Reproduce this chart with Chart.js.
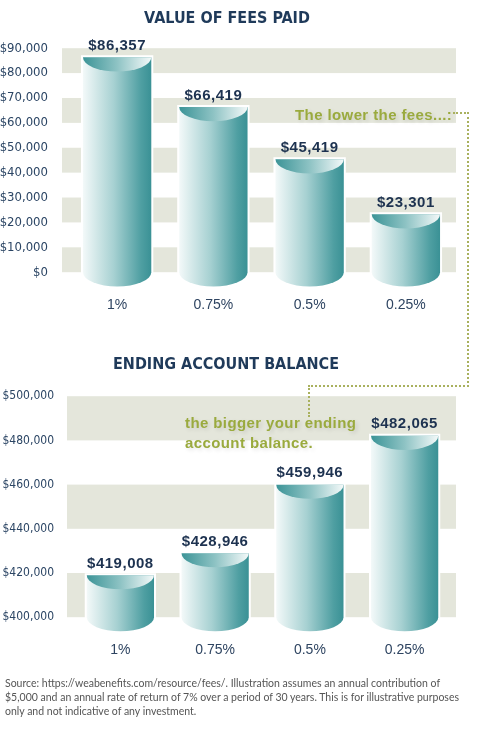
<!DOCTYPE html>
<html lang="en">
<head>
<meta charset="UTF-8">
<title>Fees vs Ending Balance</title>
<script src="https://cdn.jsdelivr.net/npm/chart.js"></script>
<style>
    body { margin: 0; background: #fff; }
    #wrap { position: relative; width: 482px; height: 730px; overflow: hidden; }
    #wrap canvas { position: absolute; left: 0; }
    .note {
        position: absolute; color: #9aaa3e; font-family: 'Liberation Sans', Arial, sans-serif;
        font-weight: bold; font-size: 15px; line-height: 20px; white-space: nowrap; letter-spacing: 0.4px;
        text-shadow: 2px 2px 4px rgba(0,0,0,0.12);
    }
    .dots { position: absolute; border: 0 dotted #a9b15e; }
    #source {
        position: absolute; left: 5px; top: 676px; width: 476px;
        font-family: Lato, 'Open Sans', sans-serif; font-size: 10.5px; line-height: 14px; color: #555;
    }
</style>
</head>
<body>
<div id="wrap">
    <canvas id="fees" width="482" height="339" style="top:0"></canvas>
    <canvas id="balance" width="482" height="354" style="top:330px"></canvas>

    <div class="note" style="left:295px; top:105px;">The lower the fees...:</div>
    <div class="dots" style="left:453px; top:112px; width:14px; height:273px; border-top-width:2px; border-right-width:2px;"></div>
    <div class="dots" style="left:308px; top:385px; width:159px; height:30px; border-top-width:2px; border-left-width:2px;"></div>
    <div class="note" style="left:185px; top:413px;">the bigger your ending<br>account balance.</div>

    <div id="source">Source: https://weabenefits.com/resource/fees/. Illustration assumes an annual contribution of<br>$5,000 and an annual rate of return of 7% over a period of 30 years. This is for illustrative purposes<br>only and not indicative of any investment.</div>
</div>

<script>
    const feeRates = ['1%', '0.75%', '0.5%', '0.25%'];
    const feesPaid = [86357, 66419, 45419, 23301];
    const endingBalance = [419008, 428946, 459946, 482065];

    const narrow = "'DejaVu Sans Condensed', 'DejaVu Sans', sans-serif";
    const navy = '#1f3a5a';

    function dollars(v) {
        return '$' + Number(v).toLocaleString('en-US');
    }

    // bands between tick pairs, then cylinders drawn over the invisible bars
    const cylinders = {
        id: 'cylinders',
        beforeDatasetsDraw(chart, args, opts) {
            const { ctx, chartArea } = chart;
            const y = chart.scales.y;
            const ticks = y.ticks;
            ctx.save();
            ctx.fillStyle = '#e4e6db';
            const left = chartArea.left - opts.bandLeft;
            const right = chartArea.right + opts.bandRight;
            for (let i = 0; i + 1 < ticks.length; i += 2) {
                const y1 = y.getPixelForValue(ticks[i].value);
                const y2 = y.getPixelForValue(ticks[i + 1].value);
                ctx.fillRect(left, y2, right - left, y1 - y2);
            }
            ctx.restore();
        },
        afterDatasetsDraw(chart) {
            const ctx = chart.ctx;
            const yScale = chart.scales.y;
            const floor = yScale.getPixelForValue(yScale.min);
            const meta = chart.getDatasetMeta(0);
            const values = chart.data.datasets[0].data;
            meta.data.forEach((bar, i) => {
                const p = bar.getProps(['x', 'y', 'base', 'width'], true);
                const x = p.x, y = p.y, width = p.width;
                const base = Math.min(p.base, floor);
                const rx = width / 2;
                const ry = width * 0.21;

                ctx.save();
                // body
                ctx.beginPath();
                ctx.moveTo(x - rx, y);
                ctx.lineTo(x - rx, base);
                ctx.ellipse(x, base, rx, ry, 0, Math.PI, 0, true);
                ctx.lineTo(x + rx, y);
                ctx.closePath();
                ctx.strokeStyle = '#ffffff';
                ctx.lineWidth = 4;
                ctx.stroke();
                const g = ctx.createLinearGradient(x - rx, 0, x + rx, 0);
                g.addColorStop(0, '#f3f9f9');
                g.addColorStop(0.45, '#a7d1d2');
                g.addColorStop(0.85, '#4f9fa2');
                g.addColorStop(1, '#3a9195');
                ctx.fillStyle = g;
                ctx.fill();

                // top face
                ctx.beginPath();
                ctx.ellipse(x, y, rx, ry, 0, 0, Math.PI, false);
                ctx.closePath();
                const t = ctx.createLinearGradient(x - rx, 0, x + rx, 0);
                t.addColorStop(0, '#3c9497');
                t.addColorStop(0.5, '#8ec3c4');
                t.addColorStop(1, '#f4f9f9');
                ctx.fillStyle = t;
                ctx.fill();

                // value label
                ctx.fillStyle = '#1d3250';
                ctx.font = "bold 15px 'Liberation Sans', Arial, sans-serif";
                ctx.letterSpacing = '0.5px';
                ctx.textAlign = 'center';
                ctx.textBaseline = 'bottom';
                ctx.fillText(dollars(values[i]), x, y - 4);
                ctx.restore();
            });
        }
    };

    function makeChart(id, title, values, yMin, yMax, step, layout) {
        return new Chart(document.getElementById(id), {
            type: 'bar',
            data: {
                labels: feeRates,
                datasets: [{
                    data: values,
                    backgroundColor: 'transparent',
                    categoryPercentage: 1,
                    barPercentage: 0.71
                }]
            },
            options: {
                responsive: false,
                animation: false,
                layout: { padding: { left: 0, right: layout.right, top: 0, bottom: 0 } },
                plugins: {
                    legend: { display: false },
                    tooltip: { enabled: false },
                    title: {
                        display: true,
                        text: title,
                        color: navy,
                        font: { family: narrow, size: 16, weight: 'bold' },
                        padding: { top: layout.titleTop, bottom: layout.titleBottom }
                    },
                    cylinders: { bandLeft: layout.bandLeft, bandRight: layout.bandRight }
                },
                scales: {
                    x: {
                        grid: { display: false, drawTicks: false },
                        border: { display: false },
                        ticks: {
                            padding: 25,
                            color: '#2e4461',
                            font: { family: "'Liberation Sans', Arial, sans-serif", size: 14 }
                        }
                    },
                    y: {
                        min: yMin,
                        max: yMax,
                        grid: { display: false, drawTicks: false },
                        border: { display: false },
                        afterFit: s => { s.width = layout.axisWidth; },
                        ticks: {
                            stepSize: step,
                            padding: layout.tickPad,
                            color: '#2b4564',
                            font: { family: narrow, size: layout.tickSize },
                            callback: v => dollars(v)
                        }
                    }
                }
            },
            plugins: [cylinders]
        });
    }

    makeChart('fees', 'VALUE OF FEES PAID', feesPaid, 0, 90000, 10000, {
        right: 28, titleTop: 9, titleBottom: 20,
        axisWidth: 69, tickPad: 21, tickSize: 13, bandLeft: 7, bandRight: 2
    });

    makeChart('balance', 'ENDING ACCOUNT BALANCE', endingBalance, 400000, 500000, 20000, {
        right: 30, titleTop: 25, titleBottom: 22,
        axisWidth: 73, tickPad: 19, tickSize: 12, bandLeft: 6, bandRight: 4
    });
</script>
</body>
</html>
